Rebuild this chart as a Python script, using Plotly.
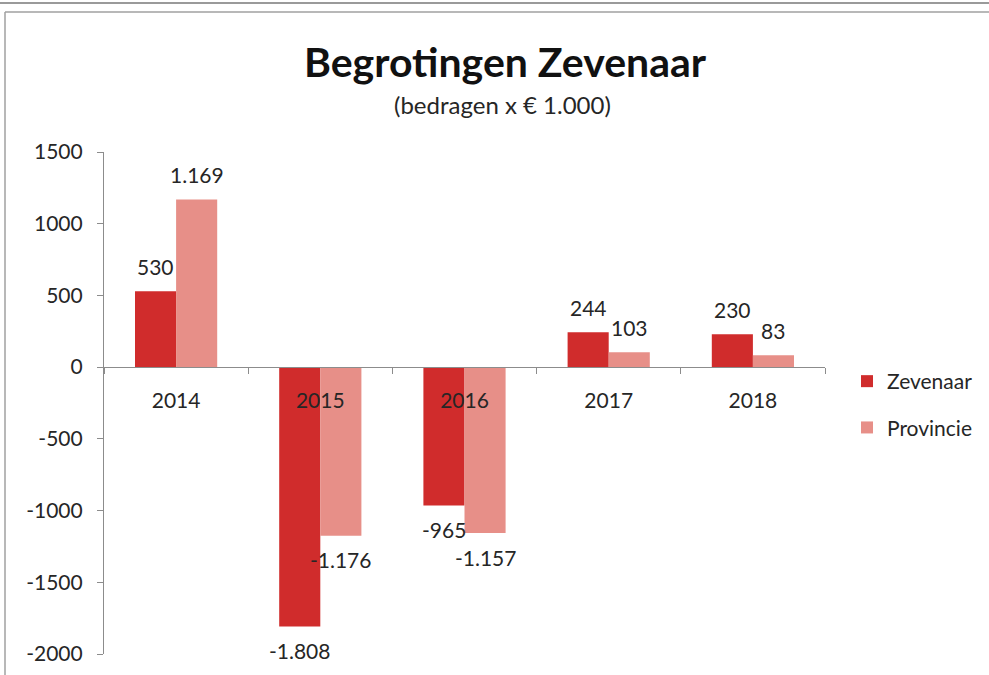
import plotly.graph_objects as go

# ---- data ----
years = ["2014", "2015", "2016", "2017", "2018"]
zevenaar = [530, -1808, -965, 244, 230]
provincie = [1169, -1176, -1157, 103, 83]
series_names = ["Zevenaar", "Provincie"]
y_ticks = [-2000, -1500, -1000, -500, 0, 500, 1000, 1500]

# ---- style ----
FONT = "Lato"
TXT = "#262626"
C_ZEV = "#d02c2c"
C_PROV = "#e78f88"
W, H = 989, 675
ML, MR, MT, MB = 104, 164, 152, 21
BARGAP = 0.43
Y_MIN, Y_MAX = -2000, 1500

def nl(v):
    return f"{v:,}".replace(",", ".")

fig = go.Figure()
fig.add_trace(go.Bar(x=years, y=zevenaar, name=series_names[0],
                     marker=dict(color=C_ZEV, line=dict(width=0)),
                     legendgroup="a"))
fig.add_trace(go.Bar(x=years, y=provincie, name=series_names[1],
                     marker=dict(color=C_PROV, line=dict(width=0)),
                     legendgroup="b"))

pw = W - ML - MR
ph = H - MT - MB
def px_x(p):
    return (p - ML) / pw
def px_y(p):
    return (H - MB - p) / ph

half = (1 - BARGAP) / 4.0
annotations = []
for i, (yr, a, b) in enumerate(zip(years, zevenaar, provincie)):
    for off, v in ((-half, a), (half, b)):
        annotations.append(dict(
            x=i + off, y=v, xref="x", yref="y", text=nl(v), showarrow=False,
            yanchor="middle", xanchor="center", yshift=25 if v > 0 else -24,
            font=dict(family=FONT, size=21, color=TXT)))

annotations.append(dict(x=px_x(505), y=px_y(62), xref="paper", yref="paper",
                        text="<b>Begrotingen Zevenaar</b>", showarrow=False,
                        xanchor="center", yanchor="middle",
                        font=dict(family=FONT, size=41, color="#111111")))
annotations.append(dict(x=px_x(502), y=px_y(104), xref="paper", yref="paper",
                        text="(bedragen x € 1.000)", showarrow=False,
                        xanchor="center", yanchor="middle",
                        font=dict(family=FONT, size=24, color=TXT)))

frame = dict(color="#a0a0a0", width=1.5)
shapes = [
    dict(type="line", xref="paper", yref="paper", x0=px_x(0), x1=px_x(W),
         y0=px_y(3), y1=px_y(3), line=dict(color="#9a9a9a", width=2)),
    dict(type="line", xref="paper", yref="paper", x0=px_x(5), x1=px_x(W),
         y0=px_y(12), y1=px_y(12), line=frame),
    dict(type="line", xref="paper", yref="paper", x0=px_x(5), x1=px_x(5),
         y0=px_y(12), y1=px_y(H), line=frame),
]

fig.update_layout(
    width=W, height=H,
    margin=dict(l=ML, r=MR, t=MT, b=MB, autoexpand=False),
    paper_bgcolor="white", plot_bgcolor="white",
    barmode="group", bargap=BARGAP, bargroupgap=0,
    font=dict(family=FONT, size=21, color=TXT),
    showlegend=True,
    legend=dict(x=px_x(847), y=px_y(361), xanchor="left", yanchor="top",
                font=dict(family=FONT, size=21, color=TXT),
                tracegroupgap=16, itemwidth=30, bgcolor="rgba(0,0,0,0)"),
    annotations=annotations,
    shapes=shapes,
    xaxis=dict(type="category", anchor="free",
               position=(0 - Y_MIN) / (Y_MAX - Y_MIN),
               showline=True, linecolor="#8c8c8c", linewidth=1.2,
               ticks="outside", tickson="boundaries", ticklen=6,
               tickcolor="#8c8c8c", ticklabelstandoff=15,
               showgrid=False, zeroline=False,
               tickfont=dict(family=FONT, size=21, color=TXT)),
    yaxis=dict(range=[Y_MIN, Y_MAX], tickvals=y_ticks,
               ticktext=[str(t) for t in y_ticks],
               showline=True, linecolor="#8c8c8c", linewidth=1.2,
               ticks="outside", ticklen=6, tickcolor="#8c8c8c",
               ticklabelstandoff=10,
               showgrid=False, zeroline=False,
               tickfont=dict(family=FONT, size=21, color=TXT)),
)

fig.write_html("out.html",
               config={"displayModeBar": False},
               post_script="document.documentElement.style.margin='0';"
                           "document.documentElement.style.overflow='hidden';"
                           "document.body.style.margin='0';"
                           "document.body.style.overflow='hidden';")
